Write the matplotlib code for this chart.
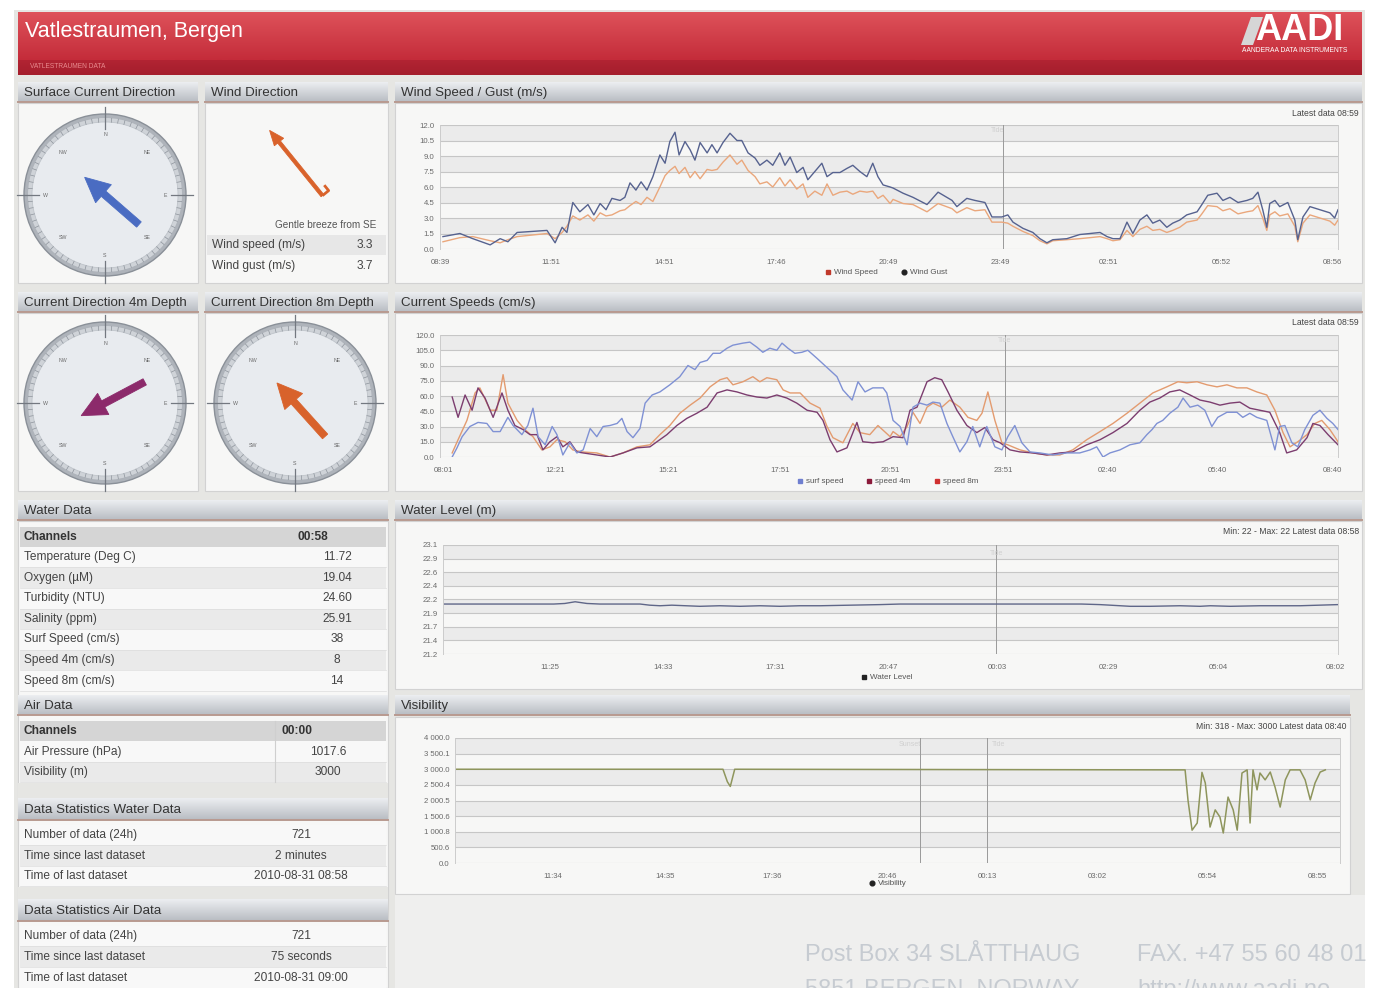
import numpy as np
import matplotlib.pyplot as plt
import matplotlib.colors as mcolors
from matplotlib.patches import Rectangle, Circle, Polygon

plt.rcParams['font.family'] = ['Liberation Sans', 'DejaVu Sans']

# ---------------- data ----------------
# wind speed / gust (m/s), time in hours since 08:39
wind_t = [0.08, 0.54, 0.89, 1.36, 1.63, 1.84, 2.09, 2.90, 3.12, 3.31,
          3.44, 3.60, 3.79, 4.01, 4.17, 4.34, 4.50, 4.66, 4.88, 5.01,
          5.15, 5.31, 5.45, 5.61, 5.77, 5.96, 6.10, 6.23, 6.37, 6.48,
          6.64, 6.78, 6.91, 7.05, 7.24, 7.37, 7.51, 7.67, 7.86, 8.05,
          8.18, 8.35, 8.54, 8.67, 8.86, 9.02, 9.21, 9.35, 9.49, 9.67,
          9.84, 9.97, 10.16, 10.35, 10.49, 10.65, 10.84, 11.03, 11.19, 11.38,
          11.57, 11.73, 11.87, 12.01, 12.20, 12.28, 12.55, 12.82, 13.20, 13.50,
          13.88, 14.01, 14.28, 14.50, 14.77, 14.96, 15.23, 15.39, 15.53, 15.80,
          16.07, 16.26, 16.45, 16.61, 16.99, 17.34, 17.62, 17.89, 18.08, 18.24,
          18.43, 18.62, 18.78, 18.97, 19.16, 19.32, 19.51, 19.70, 19.86, 20.05,
          20.24, 20.52, 20.65, 20.81, 21.06, 21.22, 21.41, 21.63, 21.87, 22.03,
          22.17, 22.30, 22.41, 22.49, 22.63, 22.76, 22.98, 23.17, 23.25, 23.39,
          23.58, 23.85, 24.12, 24.25, 24.34]
wind_gust = [1.2, 1.5, 1.0, 0.4, 1.0, 0.7, 1.6, 1.8, 0.6, 2.1,
             1.6, 4.5, 3.6, 4.3, 3.3, 4.4, 3.8, 4.9, 4.7, 5.0,
             6.4, 5.7, 6.5, 5.7, 7.0, 9.1, 8.3, 10.4, 11.3, 9.1,
             10.4, 9.6, 8.6, 10.3, 9.3, 10.1, 9.3, 10.3, 11.2, 10.5,
             10.5, 9.3, 8.8, 8.1, 8.6, 8.1, 9.3, 8.1, 8.9, 7.4,
             7.9, 6.7, 7.5, 8.3, 7.0, 7.4, 7.4, 7.8, 8.1, 7.5,
             7.0, 8.3, 7.0, 6.2, 6.0, 5.9, 5.4, 5.0, 4.3, 5.5,
             4.7, 4.1, 4.9, 4.7, 4.5, 3.1, 3.1, 3.3, 2.6, 2.0,
             1.6, 1.0, 0.6, 0.9, 1.0, 1.4, 1.5, 1.6, 1.2, 1.0,
             1.0, 2.6, 1.5, 2.8, 3.3, 2.5, 2.8, 2.1, 2.5, 2.8,
             3.3, 3.6, 4.3, 5.2, 5.4, 4.7, 5.0, 4.5, 4.7, 4.9,
             5.5, 3.8, 2.1, 4.4, 4.7, 4.1, 4.5, 2.8, 0.9, 3.1,
             4.1, 3.8, 3.5, 3.0, 3.8]
wind_speed = [0.7, 1.1, 1.2, 0.8, 0.6, 0.9, 1.2, 1.5, 1.0, 1.6,
              2.2, 3.2, 2.8, 3.3, 2.7, 3.5, 3.2, 3.3, 3.7, 3.8,
              4.2, 4.6, 4.3, 5.0, 4.6, 6.0, 7.1, 7.6, 8.0, 7.3,
              7.9, 6.9, 7.5, 6.8, 7.7, 7.6, 7.7, 8.4, 9.1, 8.2,
              8.6, 7.6, 7.0, 6.3, 6.5, 6.0, 6.9, 6.1, 6.7, 5.8,
              6.3, 5.0, 5.6, 5.2, 6.3, 5.2, 5.5, 5.6, 5.3, 5.6,
              5.5, 5.6, 4.9, 5.2, 4.4, 4.8, 4.4, 4.3, 3.6, 4.4,
              3.9, 3.5, 4.0, 3.7, 3.8, 2.6, 2.6, 2.5, 2.2, 1.7,
              1.3, 0.8, 0.5, 0.8, 0.9, 1.0, 1.1, 1.2, 1.0, 0.8,
              0.9, 1.8, 1.2, 1.9, 2.2, 1.8, 1.9, 1.6, 1.8, 2.1,
              2.6, 2.8, 3.4, 4.2, 4.1, 3.7, 3.9, 3.4, 3.6, 3.7,
              4.2, 3.0, 1.8, 3.3, 3.6, 3.2, 3.4, 2.2, 0.7, 2.5,
              3.3, 3.0, 2.7, 2.3, 2.8]
wind_xticks = [0, 3.01, 6.07, 9.11, 12.14, 15.18, 18.13, 21.19, 24.2]
wind_xlabels = ['08:39', '11:51', '14:51', '17:46', '20:49', '23:49', '02:51', '05:52', '08:56']
wind_yticks = [0, 1.5, 3, 4.5, 6, 7.5, 9, 10.5, 12]
wind_ylabels = ['0.0', '1.5', '3.0', '4.5', '6.0', '7.5', '9.0', '10.5', '12.0']

# current speeds (cm/s), time in hours since 08:01
surf_t = [0.33, 0.46, 0.60, 0.81, 1.03, 1.27, 1.44, 1.63, 1.84, 1.98,
          2.22, 2.38, 2.52, 2.66, 2.85, 3.04, 3.17, 3.33, 3.52, 3.71,
          3.88, 4.07, 4.25, 4.42, 4.61, 4.80, 4.93, 5.07, 5.23, 5.42,
          5.56, 5.75, 5.96, 6.23, 6.50, 6.72, 6.91, 7.05, 7.24, 7.40,
          7.59, 7.78, 7.94, 8.21, 8.40, 8.59, 8.75, 8.94, 9.13, 9.27,
          9.43, 9.62, 9.81, 9.97, 10.22, 10.49, 10.76, 10.92, 11.17, 11.33,
          11.52, 11.73, 12.01, 12.11, 12.28, 12.47, 12.66, 12.82, 13.01, 13.20,
          13.36, 13.55, 13.74, 13.90, 14.09, 14.28, 14.44, 14.63, 14.82, 15.04,
          15.23, 15.39, 15.58, 15.77, 15.99, 16.26, 16.61, 16.99, 17.34, 17.62,
          17.80, 17.97, 18.16, 18.43, 18.70, 18.97, 19.16, 19.30, 19.43, 19.59,
          19.78, 20.00, 20.14, 20.33, 20.54, 20.73, 20.92, 21.08, 21.33, 21.60,
          21.76, 21.95, 22.14, 22.41, 22.63, 22.76, 22.90, 23.09, 23.25, 23.44,
          23.66, 23.85, 24.04, 24.20, 24.34]
surf_speed = [0, 9, 20, 30, 34, 33, 25, 25, 39, 31,
              22, 31, 48, 20, 12, 30, 22, 2, 14, 4,
              7, 28, 20, 30, 31, 33, 38, 25, 19, 28,
              53, 61, 64, 71, 79, 90, 86, 93, 95, 102,
              102, 107, 110, 112, 113, 108, 103, 107, 105, 112,
              107, 102, 103, 105, 97, 88, 79, 66, 56, 74,
              64, 68, 68, 63, 36, 30, 12, 49, 53, 51,
              54, 53, 33, 20, 5, 15, 30, 10, 30, 10,
              7, 20, 31, 14, 5, 4, 2, 4, 4, 7,
              10, 0, 4, 7, 12, 14, 22, 27, 33, 36,
              43, 49, 58, 49, 51, 46, 30, 39, 44, 44,
              39, 43, 39, 36, 7, 30, 31, 14, 10, 27,
              41, 46, 38, 33, 27]
s4_t = [0.33, 0.49, 0.68, 0.87, 1.03, 1.22, 1.44, 1.68, 1.84, 2.03,
        2.25, 2.44, 2.63, 2.79, 2.98, 3.17, 3.33, 3.52, 3.71, 3.88,
        4.25, 4.61, 4.96, 5.34, 5.69, 5.88, 6.15, 6.42, 6.69, 6.96,
        7.24, 7.51, 7.78, 8.05, 8.32, 8.59, 8.86, 9.13, 9.40, 9.67,
        9.95, 10.22, 10.38, 10.57, 10.76, 11.03, 11.30, 11.46, 11.73, 12.01,
        12.28, 12.55, 12.74, 12.93, 13.20, 13.41, 13.60, 13.77, 14.01, 14.28,
        14.55, 14.77, 14.99, 15.18, 15.45, 15.72, 16.07, 16.45, 16.80, 17.15,
        17.53, 17.89, 18.24, 18.62, 18.97, 19.24, 19.51, 19.78, 20.05, 20.33,
        20.60, 20.87, 21.14, 21.41, 21.68, 21.95, 22.22, 22.49, 22.76, 22.95,
        23.22, 23.50, 23.66, 23.85, 24.07, 24.34]
speed_4m = [59, 39, 61, 46, 68, 58, 39, 63, 46, 31,
            27, 22, 22, 7, 15, 20, 10, 15, 5, 4,
            2, 0, 4, 9, 10, 15, 22, 31, 38, 43,
            49, 63, 66, 64, 61, 59, 58, 61, 58, 53,
            46, 44, 36, 17, 5, 9, 34, 15, 14, 15,
            20, 19, 46, 49, 74, 78, 76, 64, 46, 31,
            24, 29, 17, 14, 7, 5, 4, 2, 4, 5,
            12, 17, 24, 33, 46, 54, 58, 64, 66, 61,
            56, 54, 51, 53, 54, 48, 46, 44, 24, 4,
            7, 19, 33, 31, 22, 12]
s8_t = [0.33, 0.49, 0.73, 0.95, 1.08, 1.36, 1.54, 1.71, 1.84, 2.09,
        2.30, 2.52, 2.76, 2.98, 3.17, 3.39, 3.60, 3.85, 4.25, 4.61,
        4.96, 5.34, 5.69, 5.96, 6.23, 6.50, 6.78, 7.05, 7.32, 7.59,
        7.78, 7.94, 8.21, 8.48, 8.67, 8.86, 9.13, 9.30, 9.49, 9.76,
        10.03, 10.30, 10.49, 10.65, 10.92, 11.19, 11.38, 11.65, 11.87, 12.20,
        12.28, 12.47, 12.66, 12.82, 13.01, 13.20, 13.36, 13.60, 13.82, 14.09,
        14.31, 14.55, 14.69, 14.85, 15.04, 15.23, 15.39, 15.72, 16.07, 16.45,
        16.80, 17.15, 17.53, 17.89, 18.24, 18.62, 18.97, 19.32, 19.70, 20.00,
        20.24, 20.52, 20.79, 21.06, 21.33, 21.60, 21.87, 22.14, 22.41, 22.63,
        22.85, 23.04, 23.25, 23.50, 23.71, 23.90, 24.12, 24.34]
speed_8m = [4, 17, 36, 63, 68, 46, 46, 81, 53, 36,
            27, 20, 7, 10, 17, 15, 7, 5, 4, 0,
            4, 10, 12, 22, 31, 43, 51, 58, 69, 76,
            78, 71, 74, 79, 74, 78, 76, 66, 63, 63,
            53, 48, 30, 19, 14, 33, 24, 22, 31, 20,
            25, 20, 30, 44, 33, 49, 53, 49, 56, 49,
            39, 36, 43, 64, 36, 14, 12, 7, 4, 2,
            2, 7, 17, 25, 33, 43, 53, 63, 69, 74,
            73, 74, 71, 69, 71, 68, 68, 64, 61, 46,
            24, 10, 15, 22, 33, 36, 27, 15]
cur_xticks = [0.08, 3.12, 6.18, 9.21, 12.2, 15.26, 18.1, 21.08, 24.2]
cur_xlabels = ['08:01', '12:21', '15:21', '17:51', '20:51', '23:51', '02:40', '05:40', '08:40']
cur_yticks = [0, 15, 30, 45, 60, 75, 90, 105, 120]
cur_ylabels = ['0.0', '15.0', '30.0', '45.0', '60.0', '75.0', '90.0', '105.0', '120.0']

# water level (m)
level_t = [0, 3.0, 3.3, 3.58, 3.9, 4.25, 5.34, 5.6, 5.88, 6.2,
           6.96, 7.5, 8.05, 8.59, 9.13, 9.67, 10.22, 11.03, 11.84, 12.38,
           15.1, 17.3, 17.8, 18.08, 18.62, 19.16, 19.97, 20.51, 20.79, 21.33,
           22.14, 23.22, 24.25]
level = [22.08, 22.08, 22.09, 22.12, 22.09, 22.08, 22.08, 22.06, 22.05, 22.06,
         22.04, 22.05, 22.04, 22.05, 22.04, 22.05, 22.05, 22.06, 22.07, 22.08,
         22.08, 22.08, 22.07, 22.06, 22.04, 22.04, 22.05, 22.04, 22.05, 22.04,
         22.05, 22.05, 22.07]
lvl_xticks = [2.9, 5.96, 9.0, 12.06, 15.01, 18.02, 21.0, 24.17]
lvl_xlabels = ['11:25', '14:33', '17:31', '20:47', '00:03', '02:29', '05:04', '08:02']
lvl_yticks = [21.2, 21.44, 21.68, 21.92, 22.16, 22.4, 22.64, 22.88, 23.12]
lvl_ylabels = ['21.2', '21.4', '21.7', '21.9', '22.2', '22.4', '22.6', '22.9', '23.1']

# visibility (m)
vis_t = [0, 7.30, 7.42, 7.50, 7.62, 19.75, 19.89, 19.97, 20.08, 20.22,
         20.35, 20.44, 20.57, 20.71, 20.84, 20.93, 21.06, 21.20, 21.31, 21.44,
         21.58, 21.66, 21.74, 21.85, 21.93, 22.07, 22.21, 22.34, 22.48, 22.62,
         22.75, 23.02, 23.16, 23.30, 23.43, 23.57, 23.71]
visibility = [3000, 3000, 2600, 2450, 3000, 2980, 2980, 2000, 1050, 1280,
              2900, 2560, 1150, 1700, 1470, 960, 2110, 1700, 1050, 2880,
              2980, 1280, 2980, 2340, 2880, 2660, 2910, 2430, 1790, 2660,
              2980, 2980, 2660, 2020, 2560, 2910, 2980]
vis_xticks = [2.67, 5.72, 8.64, 11.77, 14.5, 17.49, 20.49, 23.49]
vis_xlabels = ['11:34', '14:35', '17:36', '20:46', '00:13', '03:02', '05:54', '08:55']
vis_yticks = [0, 500, 1000, 1500, 2000, 2500, 3000, 3500, 4000]
vis_ylabels = ['0.0', '500.6', '1 000.8', '1 500.6', '2 000.5', '2 500.4', '3 000.0', '3 500.1', '4 000.0']

# directions (degrees, where the arrow points)
surface_dir = 311
dir_4m = 242
dir_8m = 318
wind_dir = 321

water_channels = ['Temperature (Deg C)', 'Oxygen (µM)', 'Turbidity (NTU)', 'Salinity (ppm)',
                  'Surf Speed (cm/s)', 'Speed 4m (cm/s)', 'Speed 8m (cm/s)']
water_values = ['11.72', '19.04', '24.60', '25.91', '38', '8', '14']
air_channels = ['Air Pressure (hPa)', 'Visibility (m)']
air_values = ['1017.6', '3000']
stat_labels = ['Number of data (24h)', 'Time since last dataset', 'Time of last dataset']
stat_water = ['721', '2 minutes', '2010-08-31 08:58']
stat_air = ['721', '75 seconds', '2010-08-31 09:00']

# ---------------- figure ----------------
W, H = 1378, 988
fig = plt.figure(figsize=(W / 100, H / 100), dpi=100)
fig.patch.set_facecolor('white')
bg = fig.add_axes([0, 0, 1, 1])
bg.axis('off')

TXT = 8.6      # table text size
TICK = 5.6     # chart tick label size


def grad(x, y, w, h, top, bottom, z=1):
    c1 = np.array(mcolors.to_rgb(top))
    c2 = np.array(mcolors.to_rgb(bottom))
    f = np.linspace(0, 1, 40)[:, None, None]
    bg.imshow(c1 + (c2 - c1) * f, extent=(x, x + w, y + h, y), aspect='auto',
              zorder=z, interpolation='bilinear')


def rect(x, y, w, h, fc, ec='none', z=1, lw=0.8):
    bg.add_patch(Rectangle((x, y), w, h, fc=fc, ec=ec, lw=lw, zorder=z))


def header(x, y, w, label, h=20):
    grad(x, y, w, h, '#eceef1', '#b8bcc2', z=2)
    bg.plot([x, x + w], [y + h, y + h], color='#b89a90', lw=1.4, zorder=3)
    bg.text(x + 6, y + h / 2 + 1, label, fontsize=9.6, color='#333333', va='center', zorder=4)


# page background
rect(14, 10, 1351, 978, '#e6e6e3')
rect(395, 895, 970, 93, '#efefee', z=1.5)

# red title bar
grad(18, 12, 1344, 48, '#de525a', '#c42c3a')
grad(18, 60, 1344, 15, '#b22433', '#a41e2c')
bg.text(25, 32, 'Vatlestraumen, Bergen', fontsize=15.5, color='white', va='center', zorder=4)
bg.text(30, 66, 'VATLESTRAUMEN DATA', fontsize=4.8, color='#e88a8e', va='center', zorder=4)
bg.add_patch(Polygon([(1241, 45), (1251, 17), (1263, 17), (1253, 45)], fc='#d6d6d6', ec='none', zorder=4))
bg.text(1255, 31, 'AADI', fontsize=26, fontweight='bold', color='white', va='center', zorder=4)
bg.text(1242, 50, 'AANDERAA DATA INSTRUMENTS', fontsize=4.9, color='white', va='center', zorder=4)

# panel boxes
for (x, y, w, h) in [(18, 103, 180, 180), (205, 103, 183, 180), (395, 103, 967, 180),
                     (18, 313, 180, 178), (205, 313, 183, 178), (395, 313, 967, 178),
                     (395, 521, 967, 168), (395, 717, 955, 177), (18, 521, 370, 467)]:
    rect(x, y, w, h, '#f7f7f6', ec='#d2d2d2', z=1.8)

header(18, 82, 180, 'Surface Current Direction')
header(205, 82, 183, 'Wind Direction')
header(395, 82, 967, 'Wind Speed / Gust (m/s)')
header(18, 292, 180, 'Current Direction 4m Depth')
header(205, 292, 183, 'Current Direction 8m Depth')
header(395, 292, 967, 'Current Speeds (cm/s)')
header(18, 500, 370, 'Water Data')
header(395, 500, 967, 'Water Level (m)')
header(395, 695, 955, 'Visibility')


# ---------------- gauges ----------------
def arrow(cx, cy, heading, back, front, color, shaft=7, head_w=24, head_l=25):
    a = np.radians(heading)
    u = np.array([np.sin(a), -np.cos(a)])
    n = np.array([-u[1], u[0]])
    c = np.array([cx, cy])
    tail = c - u * back
    tip = c + u * front
    base = tip - u * head_l
    pts = [tail + n * shaft / 2, base + n * shaft / 2, base + n * head_w / 2, tip,
           base - n * head_w / 2, base - n * shaft / 2, tail - n * shaft / 2]
    bg.add_patch(Polygon(pts, closed=True, fc=color, ec=color, lw=0.6, zorder=6))
    return tail, u, n


def gauge(cx, cy, heading, color):
    bg.add_patch(Circle((cx, cy), 81, fc='#aeb3ba', ec='#8a9098', lw=1, zorder=3))
    bg.add_patch(Circle((cx, cy), 77, fc='#cfd3d8', ec='none', zorder=3))
    bg.add_patch(Circle((cx, cy), 73, fc='#e8ebef', ec='#bfc4ca', lw=0.6, zorder=3))
    for k in range(72):
        a = np.radians(k * 5)
        s, c = np.sin(a), -np.cos(a)
        if k % 18 == 0:
            bg.plot([cx + 66 * s, cx + 88 * s], [cy + 66 * c, cy + 88 * c], color='#737880', lw=0.9, zorder=4)
        else:
            bg.plot([cx + 73 * s, cx + 77 * s], [cy + 73 * c, cy + 77 * c], color='#8d939b', lw=0.5, zorder=4)
    for lab, ang in zip(['N', 'NE', 'E', 'SE', 'S', 'SW', 'W', 'NW'], range(0, 360, 45)):
        a = np.radians(ang)
        bg.text(cx + 60 * np.sin(a), cy - 60 * np.cos(a), lab, fontsize=3.8, color='#6a6a6a',
                ha='center', va='center', zorder=4)
    return arrow(cx, cy, heading, 45, 27, color)


gauge(105, 195, surface_dir, '#4a6cc2')
gauge(105, 403, dir_4m, '#8c2a6b')
gauge(295, 403, dir_8m, '#d8622b')

# wind direction arrow with barb
tail, u, n = arrow(296, 163, wind_dir, 42, 42, '#d9622b', shaft=3.5, head_w=12, head_l=15)
p2 = tail + n * 8
p3 = p2 + u * 7
bg.plot([tail[0], p2[0], p3[0]], [tail[1], p2[1], p3[1]], color='#d9622b', lw=2, zorder=6,
        solid_capstyle='butt')
bg.text(376, 225, 'Gentle breeze from SE', fontsize=7.2, color='#555555', ha='right', va='center', zorder=4)
rect(207, 235, 179, 20, '#e7e7e7', z=2)
bg.text(212, 245, 'Wind speed (m/s)', fontsize=TXT, color='#444444', va='center', zorder=4)
bg.text(373, 245, '3.3', fontsize=TXT, color='#444444', ha='right', va='center', zorder=4)
bg.text(212, 266, 'Wind gust (m/s)', fontsize=TXT, color='#444444', va='center', zorder=4)
bg.text(373, 266, '3.7', fontsize=TXT, color='#444444', ha='right', va='center', zorder=4)


# ---------------- tables ----------------
def table_rows(y0, labels, values, vx, step=20.6):
    for i, (lab, val) in enumerate(zip(labels, values)):
        yc = y0 + i * step
        rect(20, yc - step / 2, 366, step, '#eaeaea' if i % 2 else '#f8f8f8', z=2)
        bg.plot([20, 386], [yc + step / 2, yc + step / 2], color='#dddddd', lw=0.5, zorder=3)
        bg.text(24, yc, lab, fontsize=TXT, color='#444444', va='center', zorder=4)
        bg.text(vx, yc, val, fontsize=TXT, color='#444444', ha='center', va='center', zorder=4)


rect(20, 527, 366, 20, '#d5d5d5', z=2)
bg.text(24, 537, 'Channels', fontsize=TXT, fontweight='bold', color='#333333', va='center', zorder=4)
bg.text(297, 537, '00:58', fontsize=TXT, fontweight='bold', color='#333333', va='center', zorder=4)
table_rows(557, water_channels, water_values, 337)

header(18, 695, 370, 'Air Data')
rect(20, 721, 366, 20, '#d5d5d5', z=2)
bg.text(24, 731, 'Channels', fontsize=TXT, fontweight='bold', color='#333333', va='center', zorder=4)
bg.text(281, 731, '00:00', fontsize=TXT, fontweight='bold', color='#333333', va='center', zorder=4)
table_rows(751.5, air_channels, air_values, 328)
bg.plot([275, 275], [721, 782], color='#cfcfcf', lw=0.8, zorder=4)
rect(18, 783, 370, 15, '#e6e6e3', z=2.5)

header(18, 798, 370, 'Data Statistics Water Data', h=22)
table_rows(835, stat_labels, stat_water, 301, step=20.5)
rect(18, 887, 370, 12, '#e6e6e3', z=2.5)
header(18, 899, 370, 'Data Statistics Air Data', h=22)
table_rows(936, stat_labels, stat_air, 301, step=20.8)


# ---------------- charts ----------------
def chart(x, y, w, h, xlim, ylim, yt, yl, xt, xl):
    ax = fig.add_axes([x / W, 1 - (y + h) / H, w / W, h / H])
    ax.set_facecolor('none')
    ax.set_xlim(xlim)
    ax.set_ylim(ylim)
    for i in range(len(yt) - 1):
        if i % 2 == 1:
            ax.axhspan(yt[i], yt[i + 1], color='#ebebeb', zorder=0, lw=0)
    ax.set_yticks(yt, yl)
    ax.set_xticks(xt, xl)
    ax.grid(axis='y', color='#c6c6c6', lw=0.8, zorder=0.5)
    for s in ['top', 'bottom']:
        ax.spines[s].set_visible(False)
    for s in ['left', 'right']:
        ax.spines[s].set_color('#cccccc')
        ax.spines[s].set_linewidth(0.7)
    ax.tick_params(axis='both', labelsize=TICK, colors='#6a6a6a', length=0)
    ax.tick_params(axis='x', pad=7)
    ax.tick_params(axis='y', pad=4)
    return ax


def legend_item(x, y, marker, color, label):
    bg.plot([x], [y], marker=marker, ms=3.4, color=color, zorder=5)
    bg.text(x + 6, y, label, fontsize=5.8, color='#555555', va='center', zorder=5)


def corner_note(x, y, s):
    bg.text(x, y, s, fontsize=6.2, color='#444444', ha='right', va='center', zorder=5)


# wind speed / gust
ax1 = chart(440, 125, 898, 124, (0, 24.34), (0, 12), wind_yticks, wind_ylabels, wind_xticks, wind_xlabels)
ax1.axvline(15.26, color='#9a9a9a', lw=0.7)
ax1.text(15.1, 11.3, 'Tide', fontsize=5, color='#d0d0d0', ha='center')
ax1.plot(wind_t, wind_speed, color='#eaa77c', lw=1.0)
ax1.plot(wind_t, wind_gust, color='#56628f', lw=1.0)
corner_note(1359, 113, 'Latest data 08:59')
legend_item(828, 272, 's', '#c0392b', 'Wind Speed')
legend_item(904, 272, 'o', '#222222', 'Wind Gust')

# current speeds
ax2 = chart(440, 335, 898, 122, (0, 24.34), (0, 120), cur_yticks, cur_ylabels, cur_xticks, cur_xlabels)
ax2.axvline(15.31, color='#9a9a9a', lw=0.7)
ax2.text(15.3, 113, 'Tide', fontsize=5, color='#d0d0d0', ha='center')
ax2.plot(s8_t, speed_8m, color='#e39b6f', lw=1.0)
ax2.plot(s4_t, speed_4m, color='#7c3d6f', lw=1.0)
ax2.plot(surf_t, surf_speed, color='#7f91d4', lw=1.0)
corner_note(1359, 322, 'Latest data 08:59')
legend_item(800, 481, 's', '#6f7fd0', 'surf speed')
legend_item(869, 481, 's', '#8b1a3a', 'speed 4m')
legend_item(937, 481, 's', '#d03030', 'speed 8m')

# water level
ax3 = chart(443, 545, 895, 109, (0, 24.25), (21.2, 23.12), lvl_yticks, lvl_ylabels, lvl_xticks, lvl_xlabels)
ax3.axvline(14.99, color='#9a9a9a', lw=0.7)
ax3.text(14.99, 22.95, 'Tide', fontsize=5, color='#d0d0d0', ha='center')
ax3.plot(level_t, level, color='#5f6688', lw=1.0)
corner_note(1359, 531, 'Min: 22 - Max: 22 Latest data 08:58')
legend_item(864, 677, 's', '#222222', 'Water Level')

# visibility
ax4 = chart(455, 738, 885, 125, (0, 24.11), (0, 4000), vis_yticks, vis_ylabels, vis_xticks, vis_xlabels)
ax4.axvline(12.67, color='#9a9a9a', lw=0.7)
ax4.axvline(14.5, color='#9a9a9a', lw=0.7)
ax4.text(12.4, 3750, 'Sunset', fontsize=5, color='#d0d0d0', ha='center')
ax4.text(14.8, 3750, 'Tide', fontsize=5, color='#d0d0d0', ha='center')
ax4.plot(vis_t, visibility, color='#8e955c', lw=1.1)
corner_note(1347, 726, 'Min: 318 - Max: 3000 Latest data 08:40')
legend_item(872, 883, 'o', '#222222', 'Visibility')

# footer (second line runs off the bottom edge, as on the page)
for tx, ty, s in [(805, 955, 'Post Box 34 SLÅTTHAUG'), (805, 990, '5851 BERGEN, NORWAY'),
                  (1137, 955, 'FAX. +47 55 60 48 01'), (1137, 990, 'http://www.aadi.no')]:
    bg.text(tx, ty, s, fontsize=17, color='#c6cbd1', va='center', zorder=5)

rect(1366, 0, 12, 988, 'white', z=6)
bg.set_xlim(0, W)
bg.set_ylim(H, 0)

fig.savefig('out.png', dpi=100)
